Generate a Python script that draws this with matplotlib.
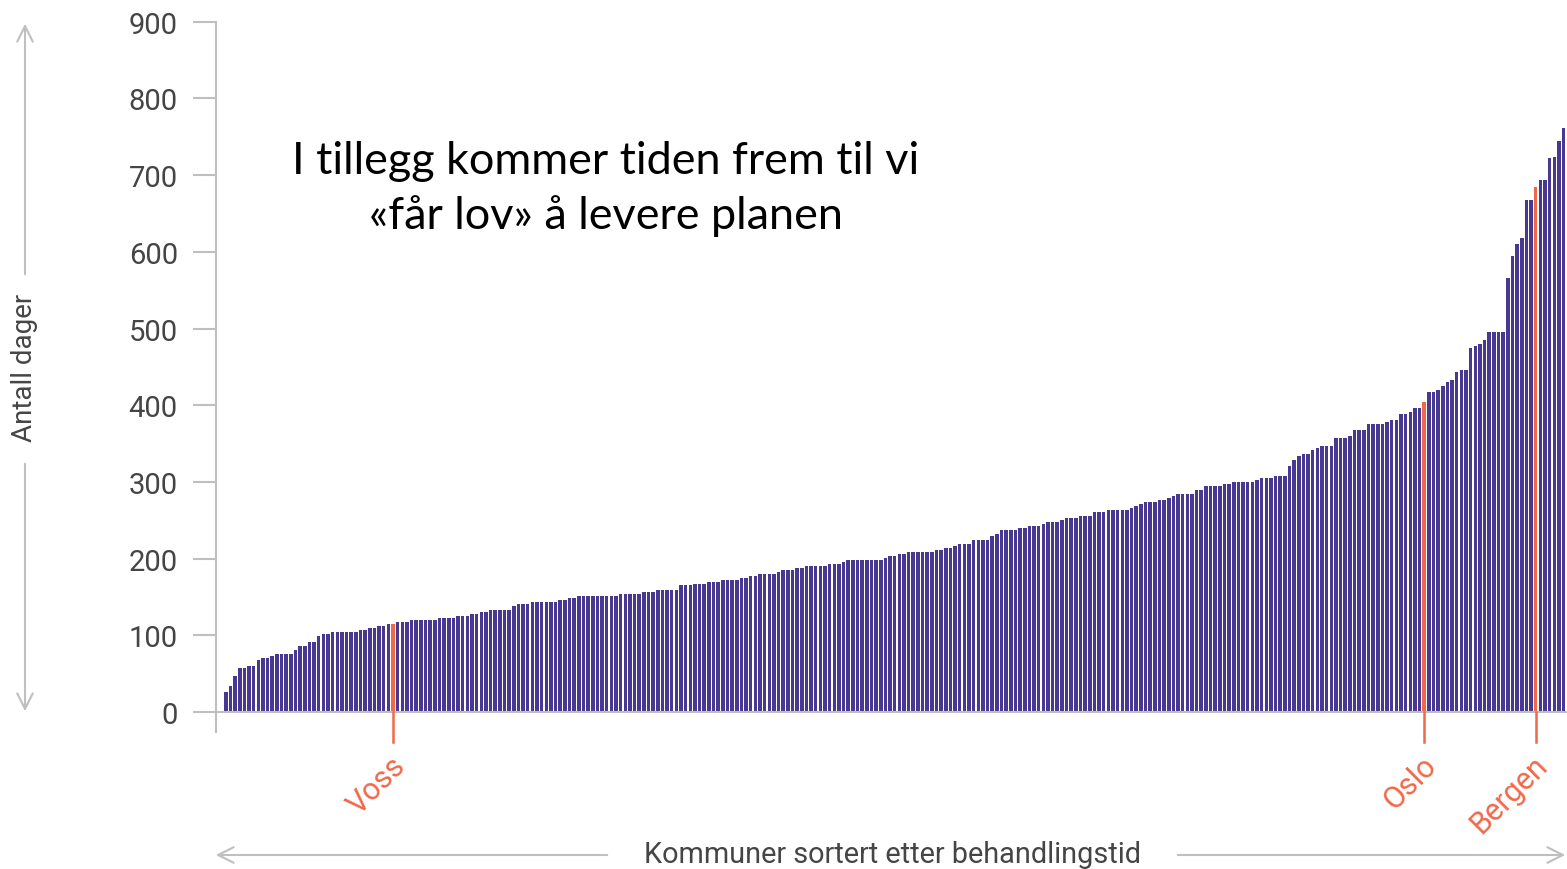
import numpy as np
import matplotlib.pyplot as plt

# behandlingstid (dager) per kommune, sortert
days = [
    26, 34, 47, 58, 58, 60, 60, 68, 71, 71,
    73, 76, 76, 76, 76, 81, 86, 86, 91, 91,
    99, 102, 102, 105, 105, 105, 105, 105, 105, 107,
    107, 110, 110, 112, 112, 115, 115, 118, 118, 118,
    120, 120, 120, 120, 120, 120, 123, 123, 123,
    123, 125, 125, 125, 128, 128, 131, 131, 133, 133,
    133, 133, 133, 138, 141, 141, 141, 144, 144, 144,
    144, 144, 144, 146, 146, 149, 149, 151, 151, 151,
    151, 151, 151, 151, 151, 151, 154, 154, 154, 154,
    154, 157, 157, 157, 159, 159, 159,
    159, 159, 165, 165, 165, 167, 167, 167, 170, 170,
    170, 172, 172, 172, 172, 175, 175, 178, 178, 180,
    180, 180, 180, 183, 185, 185, 185, 188, 188, 191,
    191, 191, 191, 191, 193, 193, 193, 196, 198, 198,
    198, 198, 198, 198, 198, 198, 201,
    204, 204, 206, 206, 209, 209, 209, 209, 209, 209,
    211, 211, 214, 214, 217, 219, 219, 219, 224, 224,
    224, 224, 230, 232, 237, 237, 237, 237, 240, 240,
    243, 243, 243, 245, 248, 248, 248, 250, 253, 253,
    253, 256, 256,
    256, 261, 261, 261, 263, 263, 263, 263, 263, 266,
    269, 271, 274, 274, 274, 276, 276, 279, 282, 284,
    284, 284, 284, 290, 290, 295, 295, 295, 295, 297,
    297, 300, 300, 300, 300, 300, 303, 305, 305,
    305, 308, 308, 308, 321, 329, 334, 336, 336, 341,
    344, 347, 347, 347, 357, 357, 357, 360, 368, 368,
    368, 375, 375, 375, 375, 378, 381, 381, 388, 388,
    391, 396, 396, 404, 417, 417, 420, 425, 430, 433,
    443, 446, 446, 474, 477, 480, 485, 495, 495, 495,
    495, 566, 594, 610, 618, 668, 668, 685, 693, 693,
    722, 724, 745, 761,
]
marked_names = ['Voss', 'Oslo', 'Bergen']
marked_idx = [36, 258, 282]
y_ticks = [0, 100, 200, 300, 400, 500, 600, 700, 800, 900]

bar_color = '#483892'
mark_color = '#f0684a'
grey = '#bfbfbf'
text_grey = '#454545'

W, H = 1567, 870

def fx(px):
    return px / W

def fy(py):
    return 1 - py / H

fig = plt.figure(figsize=(W / 100, H / 100), dpi=100)
ax = fig.add_axes([fx(216), fy(733), 1 - fx(216), (733 - 22.7) / H])

idx = np.arange(len(days))
colors = [mark_color if i in marked_idx else bar_color for i in idx]
ax.bar(idx, days, width=0.76, color=colors, linewidth=0, zorder=2)
ax.axhline(0, color=grey, lw=1.5, zorder=3)

ax.set_xlim(-2.11, 288.74)
ax.set_ylim(-26, 900)

for s in ['top', 'right', 'bottom']:
    ax.spines[s].set_visible(False)
ax.spines['left'].set_color(grey)
ax.spines['left'].set_linewidth(1.5)
ax.set_xticks([])
ax.set_yticks(y_ticks)
ax.tick_params(axis='y', length=16.5, width=1.5, color=grey, pad=11,
               labelsize=21, labelcolor=text_grey)
for lab in ax.get_yticklabels():
    lab.set_family('Roboto')

# markeringer under aksen
for name, i in zip(marked_names, marked_idx):
    ax.plot([i, i], [0, -39], color=mark_color, lw=1.8, clip_on=False, zorder=3)
    ax.text(i + 1.6, -63, name, rotation=45, rotation_mode='anchor',
            ha='right', va='center', color=mark_color, fontsize=22,
            family='Roboto', clip_on=False)

# aksetitler med piler
arrow = dict(arrowstyle='->', color=grey, lw=1.5, mutation_scale=28)
ax.annotate('', xy=(fx(25), fy(22)), xytext=(fx(25), fy(278)),
            xycoords='figure fraction', arrowprops=arrow, annotation_clip=False)
ax.annotate('', xy=(fx(25), fy(715)), xytext=(fx(25), fy(462)),
            xycoords='figure fraction', arrowprops=arrow, annotation_clip=False)
fig.text(fx(25), fy(368), 'Antall dager', rotation=90, ha='center', va='center',
         fontsize=20, color=text_grey, family='Roboto')

ax.annotate('', xy=(fx(213), fy(856)), xytext=(fx(610), fy(856)),
            xycoords='figure fraction', arrowprops=arrow, annotation_clip=False)
ax.annotate('', xy=(fx(1568), fy(856)), xytext=(fx(1175), fy(856)),
            xycoords='figure fraction', arrowprops=arrow, annotation_clip=False)
fig.text(fx(892), fy(855), 'Kommuner sortert etter behandlingstid', ha='center',
         va='center', fontsize=20.8, color=text_grey, family='Roboto')

fig.text(fx(606), fy(189), 'I tillegg kommer tiden frem til vi\n«får lov» å levere planen',
         ha='center', va='center', fontsize=32.4, family='Lato', color='black',
         linespacing=1.37)

fig.savefig('out.png', dpi=100)
